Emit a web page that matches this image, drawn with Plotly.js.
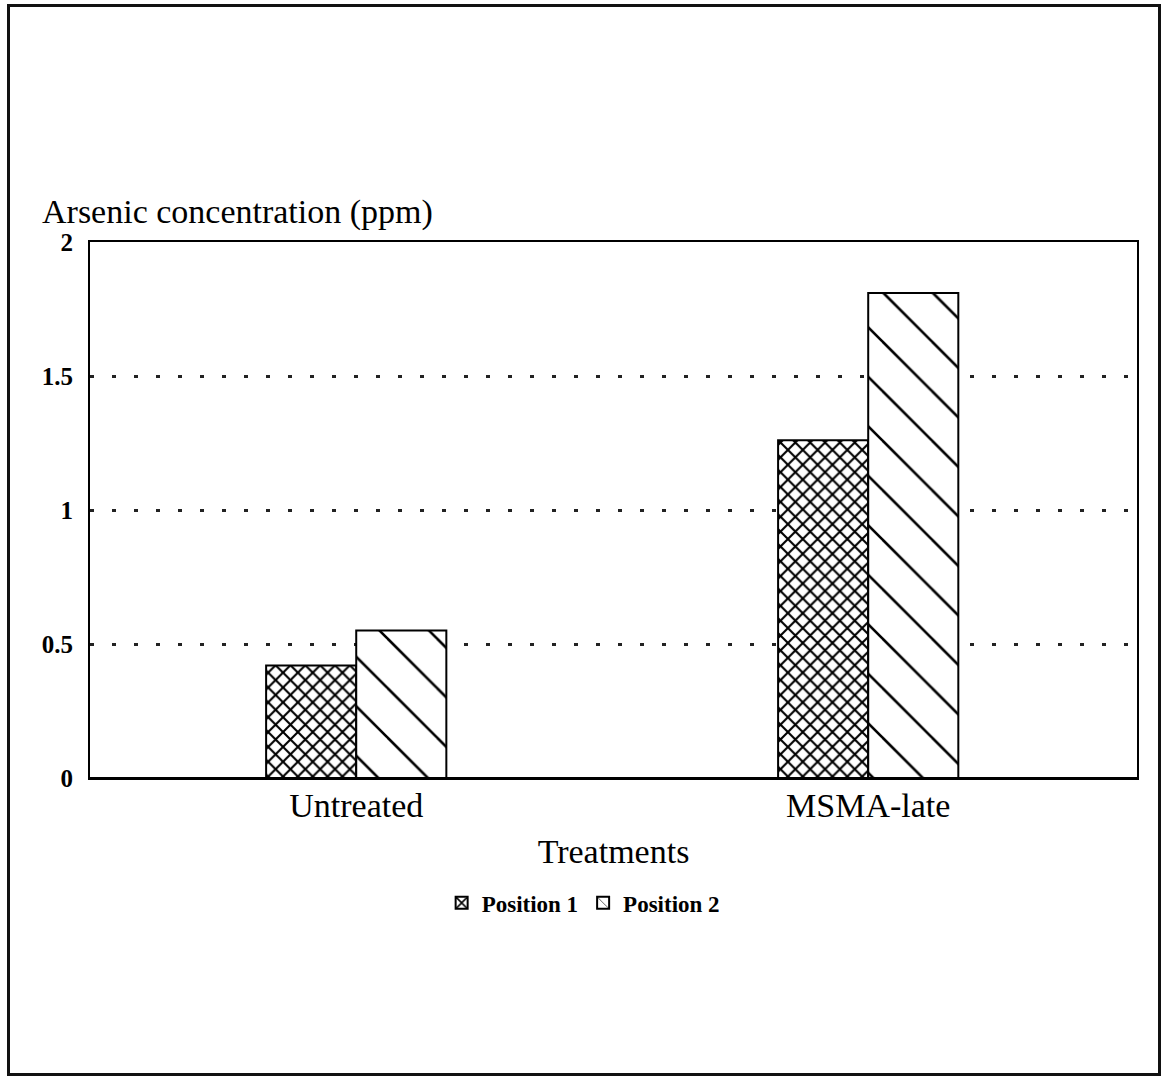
<!DOCTYPE html>
<html>
<head>
<meta charset="utf-8">
<script src="https://cdn.plot.ly/plotly-3.0.1.min.js"></script>
<style>
  html, body { margin: 0; padding: 0; background: #fff; }
  #chart { width: 1161px; height: 1077px; position: absolute; left: 0; top: 0; }
  #frame {
    position: absolute; left: 7px; top: 4px; width: 1154px; height: 1072px;
    box-sizing: border-box; border: 3px solid #111; pointer-events: none;
  }
</style>
</head>
<body>
<div id="chart"></div>
<div id="frame"></div>
<script>
// Arsenic concentration by treatment and sampling position
const treatments = ["Untreated", "MSMA-late"];
const seriesNames = ["Position 1", "Position 2"];
const position1 = [0.42, 1.26];
const position2 = [0.55, 1.81];
const yTickVals = [0, 0.5, 1, 1.5, 2];
const yTickText = ["0", "0.5", "1", "1.5", "2"];

const serif = "Liberation Serif, Times New Roman, serif";

const traces = [
  {
    type: "bar",
    name: seriesNames[0],
    x: treatments,
    y: position1,
    marker: {
      color: "white",
      line: { color: "black", width: 2 },
      pattern: { shape: "x", fgcolor: "black", bgcolor: "white", size: 10.5, solidity: 0.36 }
    }
  },
  {
    type: "bar",
    name: seriesNames[1],
    x: treatments,
    y: position2,
    marker: {
      color: "white",
      line: { color: "black", width: 2 },
      pattern: { shape: "\\", fgcolor: "black", bgcolor: "white", size: 35, solidity: 0.075 }
    }
  }
];

const layout = {
  width: 1161,
  height: 1077,
  margin: { l: 90, r: 24, t: 242, b: 299 },
  paper_bgcolor: "white",
  plot_bgcolor: "white",
  barmode: "group",
  bargap: 0.648,
  bargroupgap: 0,
  showlegend: true,
  legend: {
    orientation: "h",
    x: 0.471, xanchor: "center",
    y: -0.233, yanchor: "middle",
    font: { family: serif, size: 23, color: "black", weight: "bold" },
    itemwidth: 30,
    traceorder: "normal"
  },
  xaxis: {
    type: "category",
    range: [-0.52, 1.525],
    showline: true, linecolor: "black", linewidth: 2, mirror: true,
    showgrid: false, ticks: "", ticklabelstandoff: -4,
    tickfont: { family: serif, size: 34, color: "black" },
    title: { text: "Treatments", font: { family: serif, size: 34, color: "black" }, standoff: 16 }
  },
  yaxis: {
    range: [0, 2],
    tickvals: yTickVals,
    ticktext: yTickText,
    showline: true, linecolor: "black", linewidth: 2, mirror: true,
    zeroline: true, zerolinecolor: "black", zerolinewidth: 3,
    showgrid: true, gridcolor: "#222", gridwidth: 3, griddash: "4px,18px",
    ticks: "", ticklabelstandoff: 10,
    tickfont: { family: serif, size: 25, color: "black", weight: "bold" }
  },
  annotations: [
    {
      text: "Arsenic concentration (ppm)",
      xref: "paper", yref: "paper",
      x: (40 - 90) / 1047, xanchor: "left",
      y: 1.056, yanchor: "middle",
      showarrow: false,
      font: { family: serif, size: 34, color: "black" }
    }
  ]
};

Plotly.newPlot("chart", traces, layout, { displayModeBar: false, staticPlot: true });
</script>
</body>
</html>
